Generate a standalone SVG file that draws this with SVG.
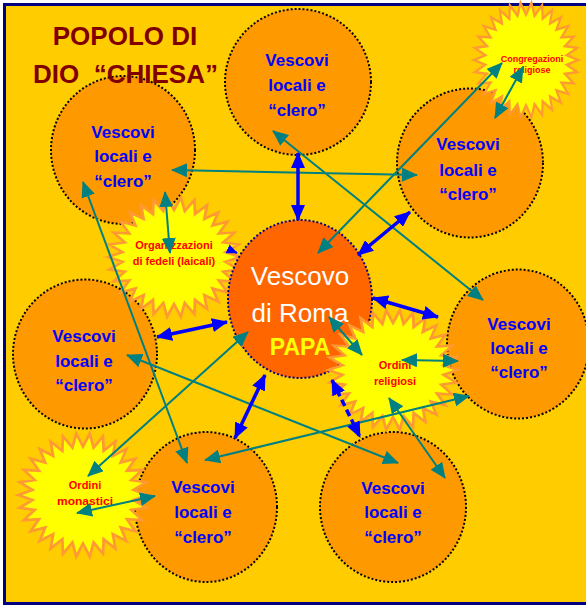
<svg xmlns="http://www.w3.org/2000/svg" xmlns:xlink="http://www.w3.org/1999/xlink" width="586" height="606" viewBox="0 0 586 606">
<style>
.circ{fill:#FF9900;stroke:#000000;stroke-width:2;stroke-dasharray:2 2}
.papa{fill:#FF6600;stroke:#000080;stroke-width:2;stroke-dasharray:2 2}
.vt{font-family:"Liberation Sans",Arial,sans-serif;font-weight:bold;font-size:17px;fill:#0000FF;text-anchor:middle}
.st{font-family:"Liberation Sans",Arial,sans-serif;font-weight:bold;font-size:11px;fill:#FF0000;text-anchor:middle}
.title{font-family:"Liberation Sans",Arial,sans-serif;font-weight:bold;font-size:26px;fill:#800000;text-anchor:middle}
.ct{font-family:"Liberation Sans",Arial,sans-serif;font-size:26px;fill:#FFFFFF;text-anchor:middle}
.tl{stroke:#008080;stroke-width:2;fill:none;marker-start:url(#ta);marker-end:url(#ta)}
.bl{stroke:#0000FF;stroke-width:3.5;fill:none;marker-start:url(#ba);marker-end:url(#ba)}
</style>
<defs>
<marker id="ta" viewBox="0 0 16 14" refX="15" refY="7" markerWidth="16" markerHeight="14" markerUnits="userSpaceOnUse" orient="auto-start-reverse"><path d="M0,0 L16,7 L0,14 z" fill="#008080"/></marker>
<marker id="ba" viewBox="0 0 16 14" refX="15" refY="7" markerWidth="16" markerHeight="14" markerUnits="userSpaceOnUse" orient="auto-start-reverse"><path d="M0,0 L16,7 L0,14 z" fill="#0000FF"/></marker>
<marker id="bs" viewBox="0 0 16 14" refX="15" refY="7" markerWidth="11" markerHeight="10" markerUnits="userSpaceOnUse" orient="auto"><path d="M0,0 L16,7 L0,14 z" fill="#0000FF"/></marker>
<polygon id="star" fill="#FFFF00" stroke="#FF9933" stroke-width="2.5" stroke-linejoin="miter" points="60,0 46.74,4.91 58.69,12.47 44.70,14.52 54.81,24.40 40.70,23.5 48.54,35.27 34.93,31.45 40.15,44.59 27.63,38.02 30,51.96 19.12,42.94 18.54,57.06 9.77,45.97 6.27,59.67 0,47 -6.27,59.67 -9.77,45.97 -18.54,57.06 -19.12,42.94 -30,51.96 -27.63,38.02 -40.15,44.59 -34.93,31.45 -48.54,35.27 -40.70,23.5 -54.81,24.40 -44.70,14.52 -58.69,12.47 -46.74,4.91 -60,0 -46.74,-4.91 -58.69,-12.47 -44.70,-14.52 -54.81,-24.40 -40.70,-23.5 -48.54,-35.27 -34.93,-31.45 -40.15,-44.59 -27.63,-38.02 -30,-51.96 -19.12,-42.94 -18.54,-57.06 -9.77,-45.97 -6.27,-59.67 0,-47 6.27,-59.67 9.77,-45.97 18.54,-57.06 19.12,-42.94 30,-51.96 27.63,-38.02 40.15,-44.59 34.93,-31.45 48.54,-35.27 40.70,-23.5 54.81,-24.40 44.70,-14.52 58.69,-12.47 46.74,-4.91"/>
</defs>
<rect x="0" y="0" width="586" height="606" fill="#FFFFFF"/>
<rect x="4.5" y="4.5" width="620" height="599" fill="#FFCC00" stroke="#000080" stroke-width="3"/>

<g id="vescovi-top">
<ellipse class="circ" cx="298" cy="82" rx="73" ry="73"/>
<text class="vt" x="297" y="66">Vescovi</text><text class="vt" x="297" y="91">locali e</text><text class="vt" x="297" y="116">“clero”</text>
</g>
<g id="vescovi-topleft">
<ellipse class="circ" cx="123" cy="150" rx="72" ry="74"/>
<text class="vt" x="123" y="138">Vescovi</text><text class="vt" x="123" y="162">locali e</text><text class="vt" x="123" y="187">“clero”</text>
</g>
<g id="vescovi-topright">
<ellipse class="circ" cx="470" cy="163" rx="73" ry="74.5"/>
<text class="vt" x="468" y="150">Vescovi</text><text class="vt" x="468" y="176">locali e</text><text class="vt" x="468" y="200">“clero”</text>
</g>
<g id="vescovi-left">
<ellipse class="circ" cx="85" cy="354" rx="72" ry="74.5"/>
<text class="vt" x="84" y="342">Vescovi</text><text class="vt" x="84" y="367">locali e</text><text class="vt" x="84" y="391">“clero”</text>
</g>
<g id="vescovi-right">
<ellipse class="circ" cx="518" cy="344" rx="71" ry="74.5"/>
<text class="vt" x="519" y="330">Vescovi</text><text class="vt" x="519" y="354">locali e</text><text class="vt" x="519" y="378">“clero”</text>
</g>
<g id="vescovi-bottomleft">
<ellipse class="circ" cx="206" cy="507" rx="71" ry="75"/>
<text class="vt" x="203" y="493">Vescovi</text><text class="vt" x="203" y="518">locali e</text><text class="vt" x="203" y="543">“clero”</text>
</g>
<g id="vescovi-bottomright">
<ellipse class="circ" cx="393" cy="507" rx="73" ry="75"/>
<text class="vt" x="393" y="494">Vescovi</text><text class="vt" x="393" y="518">locali e</text><text class="vt" x="393" y="543">“clero”</text>
</g>

<g id="organizzazioni">
<use xlink:href="#star" href="#star" transform="translate(174,257) scale(1.1,1)"/>
<text class="st" x="174" y="249">Organizzazioni</text>
<text class="st" x="174" y="265">di fedeli (laicali)</text>
</g>

<g id="vescovo-roma">
<ellipse class="papa" cx="300" cy="299" rx="72" ry="79"/>
<text class="ct" x="300" y="285">Vescovo</text>
<text class="ct" x="300" y="322">di Roma</text>
<text x="300" y="355" font-family="Liberation Sans,Arial,sans-serif" font-weight="bold" font-size="23" fill="#FFFF00" text-anchor="middle">PAPA</text>
</g>

<g id="ordini-religiosi">
<use xlink:href="#star" href="#star" transform="translate(393,370) scale(1.08,1)"/>
<text class="st" x="395" y="369">Ordini</text>
<text class="st" x="395" y="385">religiosi</text>
</g>
<g id="ordini-monastici">
<use xlink:href="#star" href="#star" transform="translate(83,495) scale(1.08,1.03)"/>
<text class="st" x="85" y="489">Ordini</text>
<text class="st" x="85" y="505" textLength="56" lengthAdjust="spacingAndGlyphs">monastici</text>
</g>
<g id="congregazioni">
<use xlink:href="#star" href="#star" transform="translate(526,60) scale(0.87,0.96)"/>
<text class="st" x="532" y="62" font-size="9" style="font-size:9px">Congregazioni</text>
<text class="st" x="532" y="73" style="font-size:9px">religiose</text>
</g>

<g id="title">
<text class="title" x="125" y="45">POPOLO DI</text>
<text class="title" x="125.5" y="83" xml:space="preserve">DIO  “CHIESA”</text>
</g>

<g id="connectors">
<line class="tl" x1="172" y1="170" x2="417" y2="175"/>
<line class="tl" x1="273" y1="131" x2="483" y2="300"/>
<line class="tl" x1="502" y1="63" x2="318" y2="253"/>
<line class="tl" x1="523" y1="67" x2="495" y2="118"/>
<line class="tl" x1="83" y1="182" x2="187" y2="463"/>
<line class="tl" x1="165" y1="192" x2="170" y2="253"/>
<line class="tl" x1="127" y1="355" x2="398" y2="463"/>
<line class="tl" x1="248" y1="332" x2="88" y2="476"/>
<line class="tl" x1="77" y1="513" x2="155" y2="496"/>
<line class="tl" x1="205" y1="460" x2="469" y2="396"/>
<line class="tl" x1="329" y1="317" x2="362" y2="355"/>
<line class="tl" x1="402" y1="360" x2="458" y2="361"/>
<line class="tl" x1="389" y1="398" x2="445" y2="478"/>
<line class="bl" x1="298" y1="153" x2="298" y2="220"/>
<line class="bl" x1="410" y1="212" x2="358" y2="255"/>
<line class="bl" x1="373" y1="298" x2="438" y2="317"/>
<line class="bl" x1="157" y1="337" x2="227" y2="322"/>
<line class="bl" x1="265" y1="375" x2="235" y2="438"/>
<line class="bl" x1="332" y1="380" x2="360" y2="437" stroke-dasharray="7 4"/>
<line x1="228" y1="249" x2="237" y2="253" stroke="#0000FF" stroke-width="2" marker-end="url(#bs)"/>
</g>
</svg>
